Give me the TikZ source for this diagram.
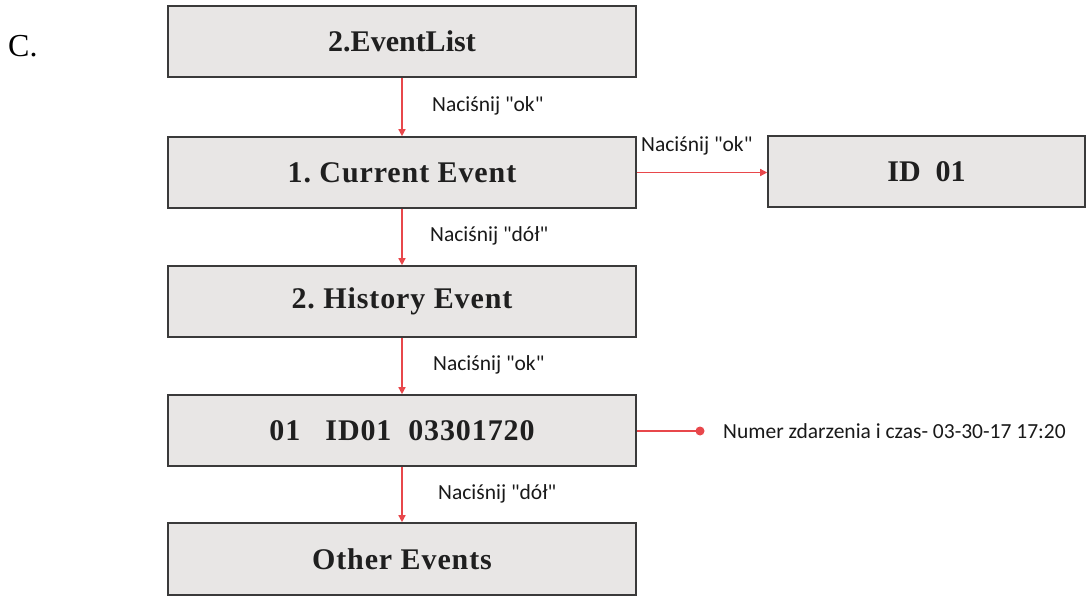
\documentclass[tikz,border=0pt]{standalone}
\usepackage{fontspec}
\setmainfont{Liberation Serif}
\newfontfamily\lblfont{Carlito}
\newfontfamily\spacedfont[LetterSpace=3]{Liberation Serif}
\usetikzlibrary{arrows.meta}
\definecolor{boxfill}{HTML}{E8E6E5}
\definecolor{boxline}{HTML}{3A3A3A}
\definecolor{arrred}{HTML}{E8474B}
\tikzset{
  menubox/.style={draw=boxline, line width=1.6pt, fill=boxfill, minimum width=468pt, minimum height=71pt, inner sep=0pt,
    font=\fontsize{30}{34}\selectfont\bfseries, text=black!88},
  spaced/.style={font=\spacedfont\fontsize{30}{34}\selectfont\bfseries},
  flowarrow/.style={draw=arrred, line width=1.4pt, -{Triangle[width=7pt,length=7pt]}},
  lbl/.style={font=\lblfont\fontsize{21.5}{24}\selectfont, anchor=west, inner sep=0pt, text=black!90}
}
\begin{document}
\begin{tikzpicture}[x=1pt,y=-1pt]
\useasboundingbox (0,0) rectangle (1088,596);
\node[font=\fontsize{32}{36}\selectfont, anchor=base west, inner sep=0pt] (c) at (8,57) {C.};
\node[menubox] (b1) at (402,41.5) {2.EventList};
\node[menubox, spaced] (b2) at (402,172.5) {1.\ Current Event};
\node[menubox, minimum width=317pt] (id) at (926.5,171.5) {ID\ \ 01};
\node[menubox, spaced] (b3) at (402,301.5) {2.\ History Event};
\node[menubox, spaced] (b4) at (402,430.5) {01\ \ \ ID01\ \ 03301720};
\node[menubox, spaced, minimum height=72pt] (b5) at (402,559) {Other Events};
\draw[flowarrow] (b1.south) -- (b2.north);
\draw[flowarrow] (b2.south) -- (b3.north);
\draw[flowarrow] (b3.south) -- (b4.north);
\draw[flowarrow] (b4.south) -- (b5.north);
\draw[flowarrow] (b2.east) -- (b2.east -| id.west);
\node[lbl] (l1) at (432,106) {Naciśnij "ok"};
\node[lbl] (l2) at (430,236) {Naciśnij "dół"};
\node[lbl] (l3) at (433,365) {Naciśnij "ok"};
\node[lbl] (l4) at (438,494) {Naciśnij "dół"};
\node[lbl] (l5) at (641,146) {Naciśnij "ok"};
\coordinate (dot) at (700,431);
\draw[draw=arrred, line width=1.4pt] (b4.east |- dot) -- (dot);
\fill[arrred] (dot) circle (4.5pt);
\node[lbl] (l6) at (723,431) {Numer zdarzenia i czas- 03-30-17 17:20};
\end{tikzpicture}
\end{document}
